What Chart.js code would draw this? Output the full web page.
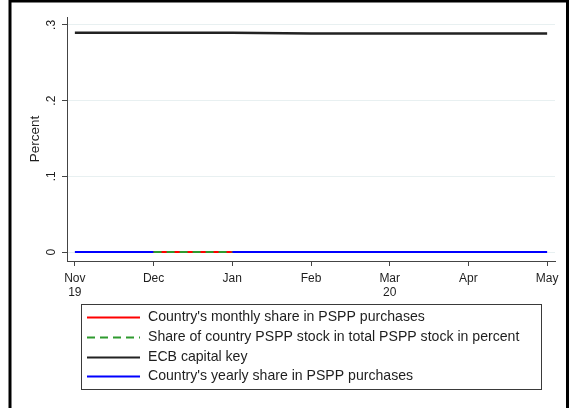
<!DOCTYPE html>
<html>
<head>
<meta charset="utf-8">
<script src="https://cdn.jsdelivr.net/npm/chart.js@4"></script>
<style>
html,body{margin:0;padding:0;background:#fff;overflow:hidden;}
#wrap{position:absolute;left:0;top:0;width:571px;height:408px;}
</style>
</head>
<body>
<div id="wrap"><canvas id="c" width="571" height="408"></canvas></div>
<script>
// ---- data ----
const months = [["Nov","19"],"Dec","Jan","Feb",["Mar","20"],"Apr","May"];
const monthlyShare = [null, 0, 0, null, null, null, null];
const stockShare   = [null, 0, 0, null, null, null, null];
const capitalKey   = [0.2897, 0.2897, 0.2897, 0.2888, 0.2888, 0.2888, 0.2888];
const yearlyShare  = [0, 0, 0, 0, 0, 0, 0];
const yTickValues = [0, 0.1, 0.2, 0.3];
const yTickLabels = ["0", ".1", ".2", ".3"];
const yTitle = "Percent";
const seriesNames = [
  "Country's monthly share in PSPP purchases",
  "Share of country PSPP stock in total PSPP stock in percent",
  "ECB capital key",
  "Country's yearly share in PSPP purchases"
];

const toPts = arr => arr.map((v, i) => ({x: i, y: v}));
const FONT = "'Liberation Sans', Arial, sans-serif";
const TXT = '#1e1e1e';

const framePlugin = {
  id: 'frame',
  afterDraw(chart) {
    const ctx = chart.ctx;
    ctx.save();
    // outer frame
    ctx.strokeStyle = '#000';
    ctx.lineWidth = 3;
    ctx.beginPath();
    ctx.moveTo(10, 420); ctx.lineTo(10, 1); ctx.lineTo(567.5, 1); ctx.lineTo(567.5, 420);
    ctx.stroke();
    // y tick labels (rotated) and title
    const ys = chart.scales.y;
    ctx.fillStyle = TXT;
    ctx.textAlign = 'center';
    ctx.textBaseline = 'middle';
    yTickValues.forEach((v, i) => {
      const py = ys.getPixelForValue(v);
      ctx.save();
      ctx.translate(52, py);
      ctx.rotate(-Math.PI / 2);
      ctx.font = '12px ' + FONT;
      ctx.fillText(yTickLabels[i], 0, 0);
      ctx.restore();
    });
    ctx.save();
    ctx.translate(35.5, (chart.chartArea.top + chart.chartArea.bottom) / 2);
    ctx.rotate(-Math.PI / 2);
    ctx.font = '13.5px ' + FONT;
    ctx.fillText(yTitle, 0, 0);
    ctx.restore();
    // legend box
    ctx.lineWidth = 1;
    ctx.strokeStyle = '#3a3a3a';
    ctx.strokeRect(81.5, 304.5, 460, 85);
    const rows = [317.5, 337.5, 357.5, 376.5];
    chart.data.datasets.forEach((ds, i) => {
      const y = rows[i];
      ctx.beginPath();
      ctx.strokeStyle = ds.borderColor;
      ctx.lineWidth = 2;
      ctx.setLineDash(ds.borderDash || []);
      ctx.moveTo(87, y); ctx.lineTo(140, y);
      ctx.stroke();
      ctx.setLineDash([]);
      ctx.fillStyle = TXT;
      ctx.font = '14.1px ' + FONT;
      ctx.textBaseline = 'middle';
      ctx.textAlign = 'left';
      ctx.fillText(ds.label, 148, y);
    });
    ctx.restore();
  }
};

new Chart(document.getElementById('c'), {
  type: 'line',
  data: {
    datasets: [
      {label: seriesNames[0], data: toPts(monthlyShare), borderColor: '#ff0000', borderWidth: 2, order: 1},
      {label: seriesNames[1], data: toPts(stockShare), borderColor: '#2e9a2e', borderWidth: 2, borderDash: [8, 5], order: 0},
      {label: seriesNames[2], data: toPts(capitalKey), borderColor: '#222222', borderWidth: 2.4, order: 3},
      {label: seriesNames[3], data: toPts(yearlyShare), borderColor: '#0000ff', borderWidth: 2, order: 2}
    ]
  },
  options: {
    responsive: false,
    animation: false,
    events: [],
    elements: {point: {radius: 0}, line: {tension: 0}},
    layout: {padding: {left: 0, top: 17, right: 16, bottom: 0}},
    plugins: {legend: {display: false}, tooltip: {enabled: false}},
    scales: {
      x: {
        type: 'linear',
        min: -0.1, max: 6.1,
        afterBuildTicks: s => { s.ticks = months.map((m, i) => ({value: i})); },
        afterFit: s => { s.height = 147; },
        grid: {drawOnChartArea: false, tickLength: 5, tickColor: '#444', color: '#444'},
        border: {color: '#444', width: 1},
        ticks: {
          callback: (v, i) => months[i],
          font: {family: FONT, size: 12, lineHeight: 1.2},
          color: TXT,
          padding: 5,
          maxRotation: 0, minRotation: 0
        }
      },
      y: {
        min: -0.0118, max: 0.3105,
        afterBuildTicks: s => { s.ticks = yTickValues.map(v => ({value: v})); },
        afterFit: s => { s.width = 67; },
        grid: {color: '#e8f0f1', tickLength: 5, tickColor: '#444', lineWidth: 1},
        border: {color: '#444', width: 1},
        ticks: {display: false}
      }
    }
  },
  plugins: [framePlugin]
});
</script>
</body>
</html>
